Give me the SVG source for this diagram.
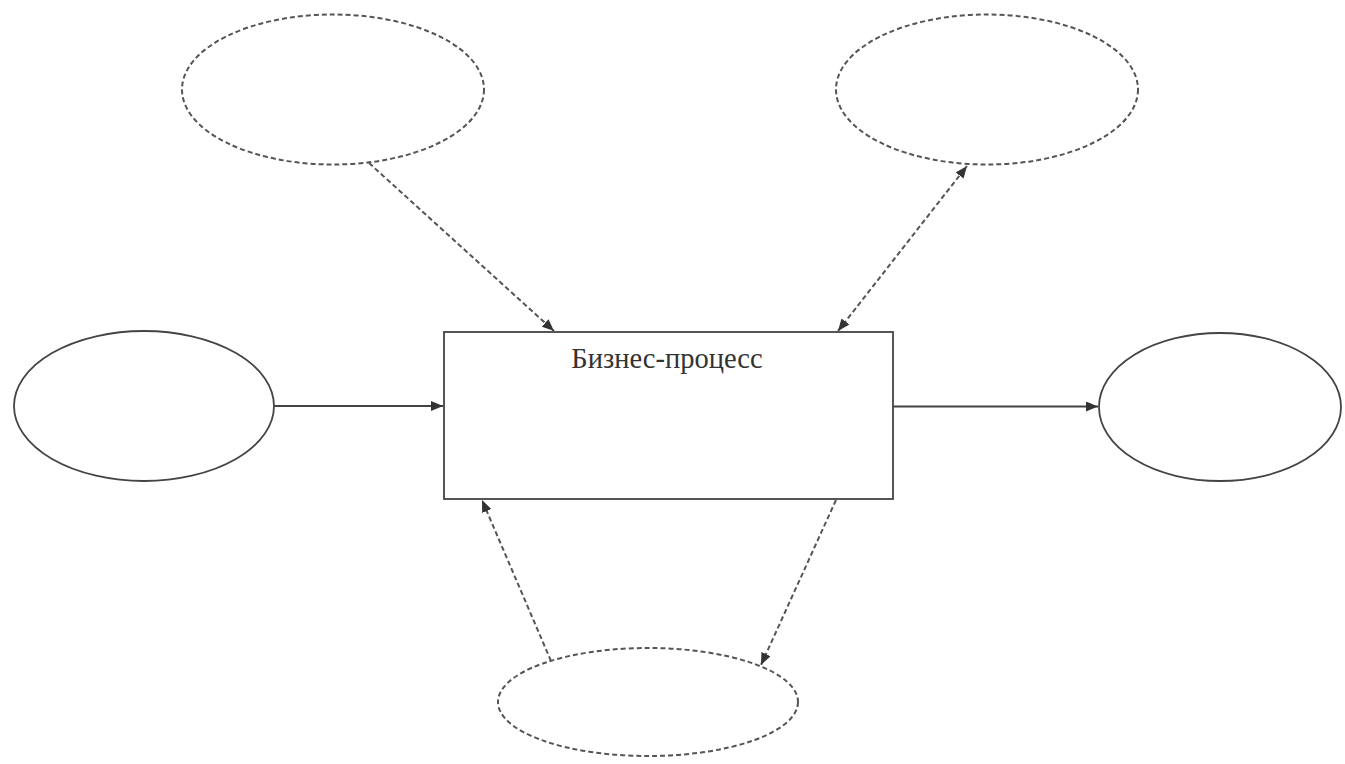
<svg xmlns="http://www.w3.org/2000/svg" width="1345" height="764" viewBox="0 0 1345 764">
<style>
.solid{fill:#fff;stroke:#444;stroke-width:1.8}
.dash{fill:#fff;stroke:#555;stroke-width:2;stroke-dasharray:5 3}
.line{fill:none;stroke:#444;stroke-width:1.8}
.dline{fill:none;stroke:#555;stroke-width:2;stroke-dasharray:5 3}
.lbl{font-family:"Liberation Serif","DejaVu Serif",serif;font-size:28.5px;fill:#333;text-anchor:middle}
</style>
<defs>
<marker id="arr" viewBox="0 0 12 10" refX="12" refY="5" markerWidth="12" markerHeight="10" markerUnits="userSpaceOnUse" orient="auto-start-reverse">
<path d="M0,0 L12,5 L0,10 z" fill="#333"/>
</marker>
</defs>
<rect width="1345" height="764" fill="#fff"/>
<g id="tl"><ellipse class="dash" cx="333" cy="89.5" rx="151" ry="75"/></g>
<g id="tr"><ellipse class="dash" cx="987" cy="89.5" rx="151" ry="75"/></g>
<g id="left"><ellipse class="solid" cx="144" cy="406" rx="130" ry="75"/></g>
<g id="right"><ellipse class="solid" cx="1220" cy="407" rx="121" ry="74"/></g>
<g id="bottom"><ellipse class="dash" cx="648" cy="702" rx="150" ry="54"/></g>
<g id="process">
<rect class="solid" x="444" y="332" width="449" height="167"/>
<text class="lbl" x="667" y="368">Бизнес-процесс</text>
</g>
<g id="connectors">
<line class="line" x1="274" y1="406" x2="443" y2="406" marker-end="url(#arr)"/>
<line class="line" x1="893" y1="406.5" x2="1098" y2="406.5" marker-end="url(#arr)"/>
<line class="dline" x1="369" y1="163" x2="554" y2="331" marker-end="url(#arr)"/>
<line class="dline" x1="838" y1="331" x2="967" y2="166" marker-start="url(#arr)" marker-end="url(#arr)"/>
<line class="dline" x1="551" y1="661" x2="482" y2="500" marker-end="url(#arr)"/>
<line class="dline" x1="836" y1="500" x2="761" y2="665" marker-end="url(#arr)"/>
</g>
</svg>
